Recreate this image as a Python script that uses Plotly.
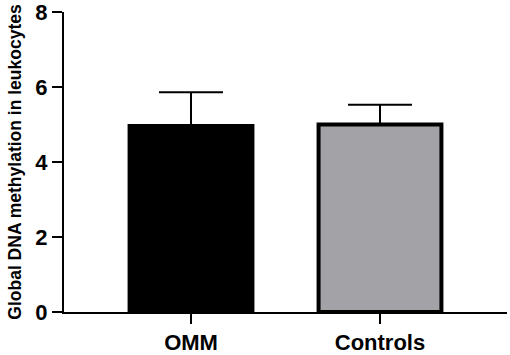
import plotly.graph_objects as go

categories = ["OMM", "Controls"]
means = [4.96, 5.0]
sem_upper = [0.90, 0.53]
bar_colors = ["#000000", "#a3a3a7"]
y_ticks = [0, 2, 4, 6, 8]

fig = go.Figure()
fig.add_trace(go.Bar(
    x=categories,
    y=means,
    width=0.65,
    marker=dict(color=bar_colors, line=dict(color="#000000", width=4)),
    error_y=dict(type="data", symmetric=False, array=sem_upper,
                 arrayminus=[0, 0], color="#000000", thickness=2, width=32),
))

fig.update_layout(
    width=510, height=355,
    margin=dict(l=64, r=3, t=12, b=43, autoexpand=False),
    paper_bgcolor="white", plot_bgcolor="white",
    showlegend=False,
    font=dict(family="Liberation Sans, Arial, sans-serif", color="#000000"),
    xaxis=dict(
        type="category",
        range=[-0.672, 1.672],
        automargin=False,
        showline=True, linecolor="#000000", linewidth=2,
        ticks="outside", ticklen=10, tickwidth=2, tickcolor="#000000",
        tickfont=dict(size=22, weight="bold"),
        showgrid=False, zeroline=False,
    ),
    yaxis=dict(
        range=[0, 8],
        tickvals=y_ticks,
        automargin=False,
        ticklabeloverflow="allow",
        showline=True, linecolor="#000000", linewidth=2,
        ticks="outside", ticklen=10, tickwidth=2, tickcolor="#000000",
        tickfont=dict(size=22, weight="bold"),
        showgrid=False, zeroline=False,
        title=dict(text="Global DNA methylation in leukocytes",
                   font=dict(size=17.5, weight="bold"), standoff=9),
    ),
)

fig.write_html("out.html", config={"displayModeBar": False},
               post_script="document.body.style.margin='0';document.body.style.padding='0';")
